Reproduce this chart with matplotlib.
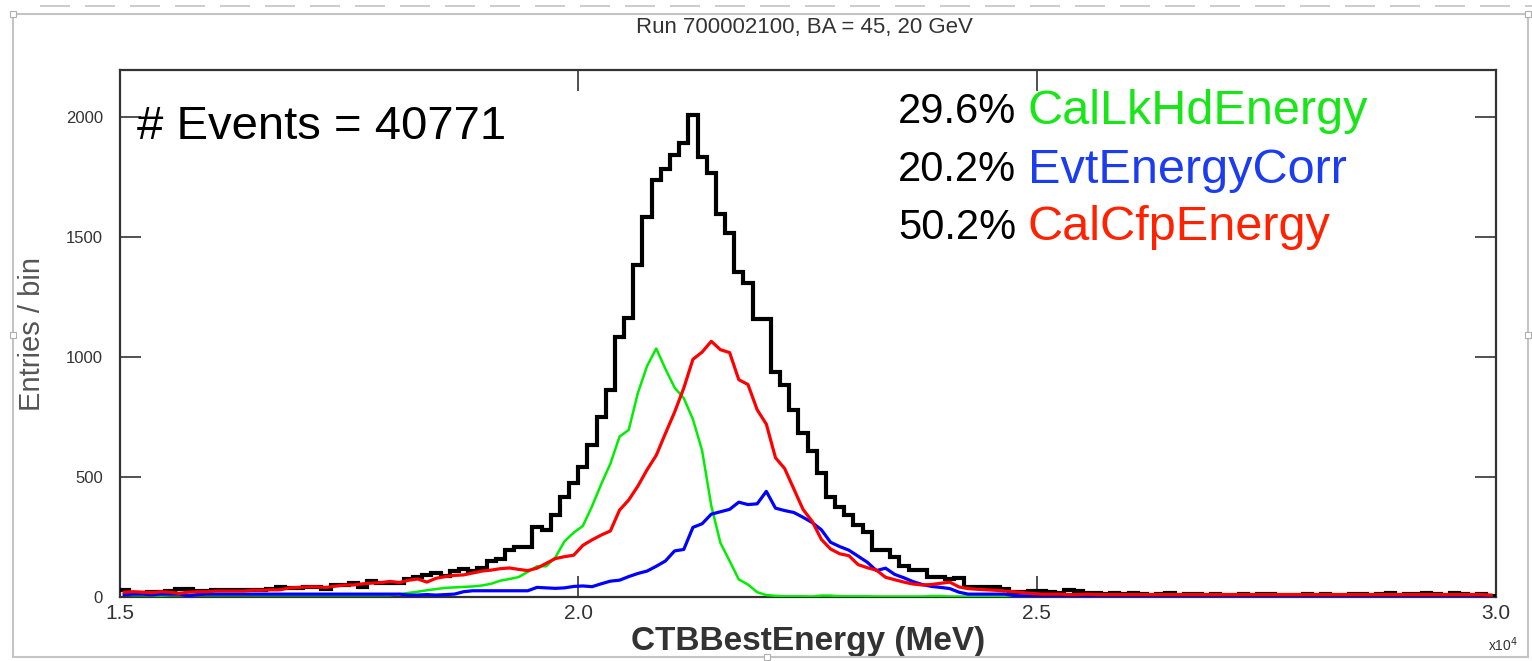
import numpy as np
import matplotlib.pyplot as plt
from matplotlib.lines import Line2D
from matplotlib.patches import Rectangle

plt.rcParams['font.family'] = ['Liberation Sans', 'DejaVu Sans']

# 150 bins of 100 MeV between 15 and 30 GeV
bin_lo, bin_hi, n_bins = 15000, 30000, 150

# CTBBestEnergy, all events
best_energy = [
    28, 18, 15, 20, 21, 25, 33, 33, 25, 27,
    31, 31, 31, 31, 29, 29, 33, 42, 37, 37,
    42, 42, 33, 50, 50, 58, 42, 68, 58, 58,
    60, 77, 83, 92, 98, 88, 108, 117, 108, 121,
    150, 160, 194, 207, 207, 290, 279, 342, 417, 475,
    542, 633, 750, 862, 1083, 1163, 1383, 1583, 1737, 1783,
    1842, 1892, 2008, 1833, 1768, 1596, 1517, 1354, 1308, 1158,
    1158, 938, 883, 779, 683, 608, 517, 417, 375, 342,
    300, 270, 196, 196, 167, 129, 112, 112, 83, 83,
    75, 79, 42, 42, 40, 40, 33, 21, 21, 23,
    25, 21, 17, 29, 25, 17, 15, 13, 15, 12,
    17, 13, 10, 12, 15, 10, 12, 13, 10, 12,
    10, 8, 12, 10, 13, 12, 8, 10, 8, 12,
    10, 13, 10, 8, 12, 13, 10, 12, 15, 10,
    13, 12, 15, 13, 10, 15, 12, 8, 12, 5,
]

# events where CalLkHdEnergy was chosen
lkhd_energy = [
    10, 8, 8, 8, 6, 8, 8, 8, 8, 8,
    8, 8, 8, 8, 8, 8, 8, 8, 8, 8,
    8, 8, 8, 8, 8, 8, 8, 8, 8, 8,
    12, 17, 22, 28, 33, 38, 40, 42, 44, 48,
    55, 68, 75, 83, 105, 128, 128, 165, 232, 268,
    296, 378, 470, 555, 668, 696, 850, 962, 1035, 950,
    872, 828, 740, 610, 380, 225, 150, 73, 52, 20,
    8, 5, 3, 3, 3, 2, 6, 6, 3, 3,
    3, 3, 2, 2, 2, 2, 2, 2, 4, 4,
    2, 2, 2, 2, 2, 2, 2, 2, 2, 2,
    2, 2, 2, 2, 2, 2, 2, 2, 2, 2,
    2, 2, 2, 2, 2, 2, 2, 2, 2, 2,
    2, 2, 2, 2, 2, 2, 2, 2, 2, 2,
    2, 2, 2, 2, 2, 2, 2, 8, 8, 2,
    2, 2, 2, 8, 8, 2, 2, 2, 2, 2,
]

# events where EvtEnergyCorr was chosen
corr_energy = [
    10, 12, 12, 10, 12, 12, 12, 5, 10, 12,
    12, 12, 12, 12, 12, 12, 12, 12, 12, 12,
    12, 12, 12, 12, 12, 12, 12, 12, 12, 12,
    12, 8, 8, 10, 8, 10, 12, 22, 26, 26,
    26, 26, 26, 26, 26, 40, 38, 36, 38, 44,
    46, 43, 55, 66, 70, 85, 98, 108, 128, 150,
    192, 198, 290, 305, 345, 355, 365, 395, 385, 388,
    440, 370, 360, 352, 332, 310, 280, 228, 210, 195,
    170, 145, 110, 120, 94, 80, 64, 52, 44, 40,
    35, 20, 12, 12, 12, 12, 12, 6, 5, 5,
    3, 3, 3, 3, 3, 3, 3, 3, 3, 3,
    3, 3, 3, 3, 3, 3, 3, 3, 3, 3,
    3, 3, 3, 3, 3, 3, 3, 3, 3, 3,
    3, 3, 3, 3, 3, 3, 3, 3, 3, 3,
    3, 3, 3, 3, 3, 3, 3, 3, 3, 3,
]

# events where CalCfpEnergy was chosen
cfp_energy = [
    20, 22, 20, 18, 22, 20, 15, 20, 22, 22,
    25, 25, 25, 25, 28, 28, 30, 30, 38, 40,
    42, 42, 40, 45, 50, 50, 55, 58, 60, 65,
    60, 70, 75, 62, 78, 85, 90, 92, 100, 108,
    112, 118, 121, 115, 110, 120, 140, 160, 168, 174,
    215, 238, 258, 275, 362, 404, 462, 530, 590, 681,
    770, 870, 990, 1020, 1065, 1030, 1018, 905, 885, 780,
    720, 580, 535, 450, 365, 315, 240, 200, 180, 172,
    135, 122, 112, 82, 72, 62, 54, 50, 52, 57,
    62, 42, 35, 32, 30, 28, 25, 22, 18, 15,
    12, 12, 12, 10, 10, 12, 10, 10, 10, 10,
    10, 10, 10, 10, 10, 10, 10, 10, 10, 10,
    10, 10, 10, 10, 10, 10, 10, 10, 10, 10,
    10, 10, 10, 10, 10, 10, 10, 10, 10, 10,
    10, 10, 10, 10, 10, 10, 10, 10, 10, 8,
]

xtick_vals = [15000, 20000, 25000, 30000]
xtick_labels = ['1.5', '2.0', '2.5', '3.0']
ytick_vals = [0, 500, 1000, 1500, 2000]

legend_pct = ['29.6%', '20.2%', '50.2%']
legend_names = ['CalLkHdEnergy', 'EvtEnergyCorr', 'CalCfpEnergy']
legend_colors = ['#19e619', '#1c3cf0', '#ff2200']

edges = np.linspace(bin_lo, bin_hi, n_bins + 1)
centers = 0.5 * (edges[:-1] + edges[1:])

W, H = 1532, 661
fig = plt.figure(figsize=(W / 100, H / 100), dpi=100)

# canvas frame
fig.add_artist(Rectangle((13 / W, 1 - 657 / H), (1528 - 13) / W, (657 - 14) / H,
                         transform=fig.transFigure, fill=False,
                         edgecolor='#c4c4c4', lw=1.5))
fig.add_artist(Line2D([40 / W, 1.0], [1 - 6 / H, 1 - 6 / H], transform=fig.transFigure,
                      color='#c4c4c4', lw=1.2, linestyle=(0, (18, 9))))
for hx, hy in [(13, 14), (1528, 14), (13, 335), (1528, 335), (767, 657)]:
    fig.add_artist(Rectangle(((hx - 3) / W, 1 - (hy + 3) / H), 6 / W, 6 / H,
                             transform=fig.transFigure, fill=True,
                             facecolor='white', edgecolor='#b0b0b0', lw=0.8))

ax = fig.add_axes([119.6 / W, 1 - 597 / H, (1495.6 - 119.6) / W, (597 - 70) / H])

ax.stairs(best_energy, edges, baseline=None, color='black', lw=3.0, zorder=3)
ax.plot(centers, lkhd_energy, color='#00ee00', lw=1.8, zorder=4)
ax.plot(centers, corr_energy, color='#0000ff', lw=2.3, zorder=5)
ax.plot(centers, cfp_energy, color='#ff0000', lw=2.3, zorder=6)

ax.set_xlim(bin_lo, bin_hi)
ax.set_ylim(0, 2195)
ax.set_xticks(xtick_vals)
ax.set_xticklabels(xtick_labels)
ax.set_yticks(ytick_vals)
ax.tick_params(axis='both', direction='in', length=15, width=1.2, color='#333333',
               top=True, right=True, labelcolor='#333333')
ax.tick_params(axis='y', labelsize=12, pad=12)
ax.tick_params(axis='x', labelsize=15, pad=5)
for sp in ax.spines.values():
    sp.set_linewidth(1.6)
    sp.set_color('#333333')

ax.set_xlabel('CTBBestEnergy (MeV)', fontsize=24, fontweight='bold', color='#333333',
              labelpad=2)
ax.set_ylabel('Entries / bin', fontsize=21, color='#555555', labelpad=14)

fig.text(1503 / W, 1 - 645 / H, r'x10$^4$', fontsize=10, color='#333333',
         ha='center', va='center')
fig.text(804 / W, 1 - 28 / H, 'Run 700002100, BA = 45, 20 GeV', fontsize=16,
         color='#333333', ha='center', va='center')
fig.text(137 / W, 1 - 127 / H, '# Events = 40771', fontsize=34, color='black',
         ha='left', va='center')

# fraction of events for each energy method
for i, (pct, name, col) in enumerate(zip(legend_pct, legend_names, legend_colors)):
    yy = 1 - (112 + 58 * i) / H
    fig.text(1016 / W, yy, pct, fontsize=30, color='black', ha='right', va='center')
    fig.text(1028 / W, yy, name, fontsize=35, color=col, ha='left', va='center')

fig.savefig('out.png', dpi=100, facecolor='white')
